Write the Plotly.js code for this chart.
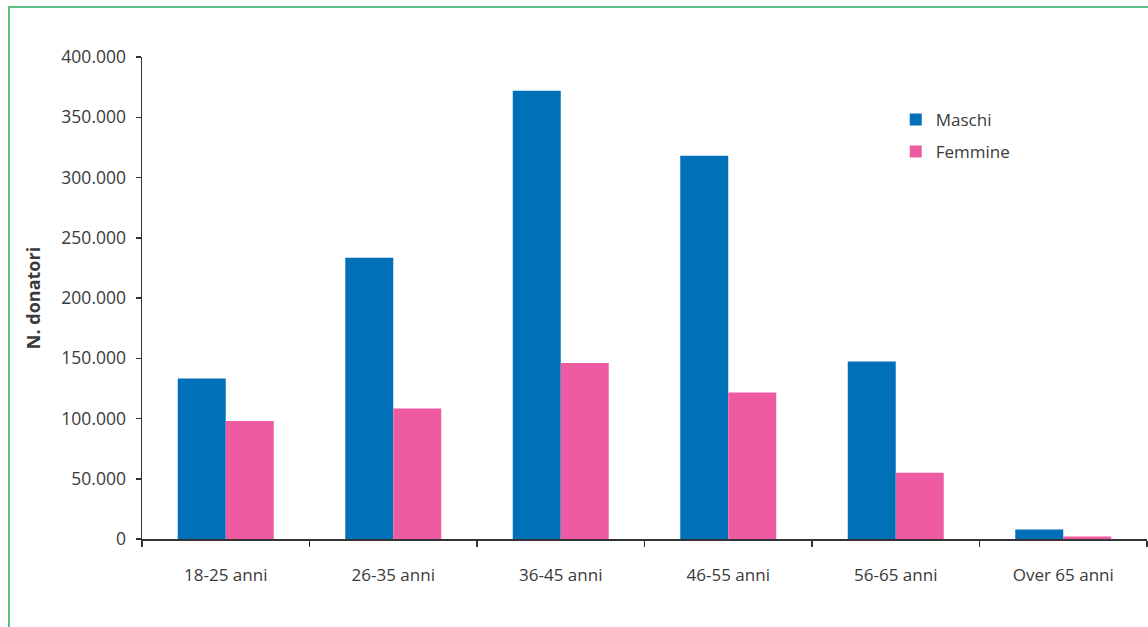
<!DOCTYPE html>
<html>
<head>
<meta charset="utf-8">
<script src="https://cdn.plot.ly/plotly-3.0.1.min.js"></script>
<style>
  html, body { margin: 0; padding: 0; background: #ffffff; }
  #wrap { position: relative; width: 1148px; height: 627px; overflow: hidden; }
  #chart { position: absolute; left: 0; top: 0; width: 1148px; height: 627px; }
  #frame { position: absolute; left: 8px; top: 6px; width: 1200px; height: 700px;
           border-left: 2px solid #5cbf86; border-top: 2px solid #5cbf86; pointer-events: none; }
</style>
</head>
<body>
<div id="wrap">
  <div id="chart"></div>
  <div id="frame"></div>
</div>
<script>
const categories = ["18-25 anni", "26-35 anni", "36-45 anni", "46-55 anni", "56-65 anni", "Over 65 anni"];
const maschi = [133100, 233400, 371900, 318000, 147200, 7900];
const femmine = [98000, 108200, 146100, 121500, 54900, 2100];
const seriesNames = ["Maschi", "Femmine"];
const yTickVals = [0, 50000, 100000, 150000, 200000, 250000, 300000, 350000, 400000];

const textColor = "#3a3a3a";
const fontFamily = "'Open Sans', 'Noto Sans', sans-serif";

const traces = [
  { type: "bar", name: seriesNames[0], x: categories, y: maschi,
    marker: { color: "#0071b9", line: { width: 0 } }, legendgroup: "a" },
  { type: "bar", name: seriesNames[1], x: categories, y: femmine,
    marker: { color: "#ef5ba1", line: { width: 0 } }, legendgroup: "b" }
];

const layout = {
  width: 1148, height: 627,
  paper_bgcolor: "rgba(0,0,0,0)", plot_bgcolor: "rgba(0,0,0,0)",
  margin: { l: 142, r: 1, t: 57, b: 87.5, autoexpand: false },
  separators: ",.",
  font: { family: fontFamily, size: 17, color: textColor },
  barmode: "group", bargap: 0.427, bargroupgap: 0,
  showlegend: true,
  legend: { x: 0.75, y: 0.907, xanchor: "left", yanchor: "top",
            traceorder: "grouped", tracegroupgap: 7, itemwidth: 30,
            font: { family: fontFamily, size: 17, color: textColor },
            bgcolor: "rgba(0,0,0,0)" },
  xaxis: {
    type: "category", showgrid: false, zeroline: false,
    showline: true, linecolor: "#333333", linewidth: 1.5,
    ticks: "outside", tickson: "boundaries", ticklen: 6, tickwidth: 1.5, tickcolor: "#333333",
    ticklabelstandoff: 20,
    tickfont: { family: fontFamily, size: 17, color: textColor }
  },
  yaxis: {
    range: [0, 400000], showgrid: false, zeroline: false,
    showline: true, linecolor: "#333333", linewidth: 1.5,
    ticks: "outside", ticklen: 5, tickwidth: 1.5, tickcolor: "#333333",
    tickvals: yTickVals, tickformat: ",d",
    ticklabelstandoff: 6,
    tickfont: { family: fontFamily, size: 17.5, color: textColor },
    title: { text: "<b>N. donatori</b>", standoff: 16,
             font: { family: fontFamily, size: 18, color: textColor } }
  }
};

Plotly.newPlot("chart", traces, layout, { displayModeBar: false, staticPlot: true });
</script>
</body>
</html>
